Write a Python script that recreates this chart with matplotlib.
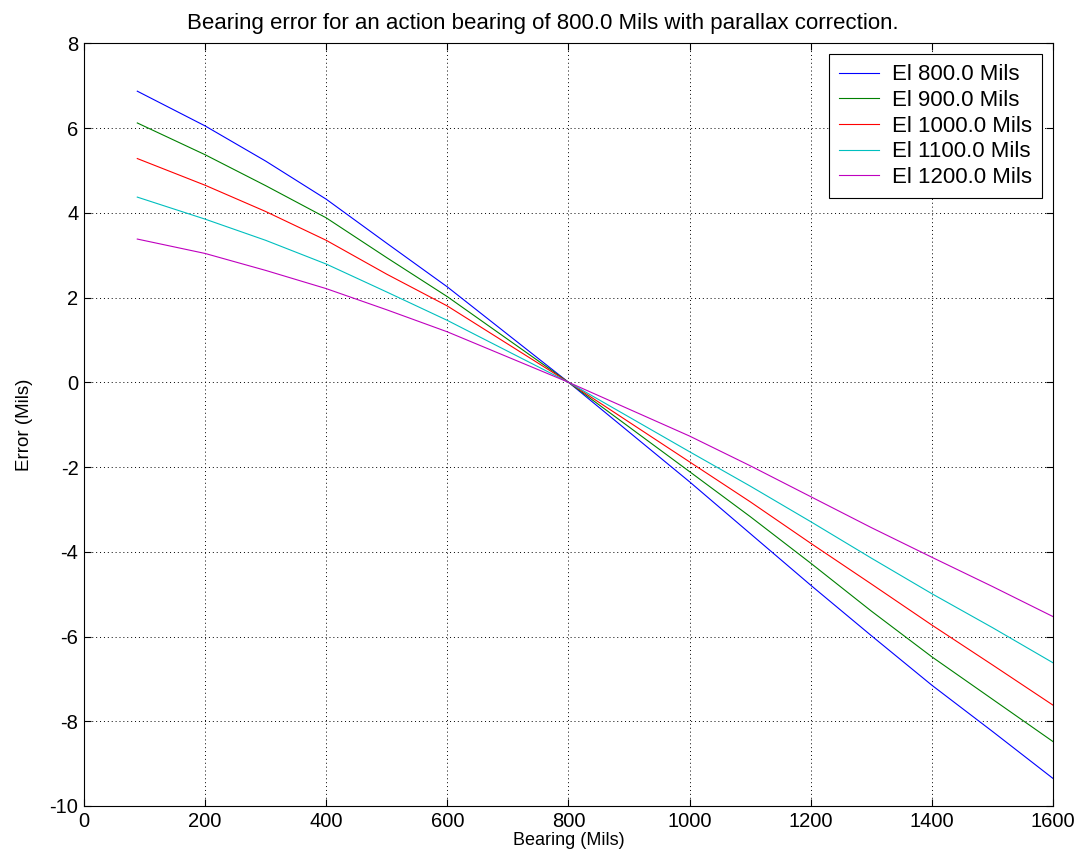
import matplotlib.pyplot as plt
import numpy as np

plt.rcParams['font.family'] = ['Liberation Sans', 'DejaVu Sans']
plt.rcParams['axes.unicode_minus'] = False

bearing = [88, 200, 300, 400, 500, 600, 800, 1000, 1100, 1200, 1300, 1400, 1500, 1600]
err_800 = [6.87, 6.05, 5.22, 4.32, 3.28, 2.25, 0.0, -2.35, -3.57, -4.79, -5.98, -7.15, -8.24, -9.35]
err_900 = [6.12, 5.37, 4.64, 3.88, 2.94, 2.02, 0.0, -2.11, -3.17, -4.27, -5.40, -6.48, -7.48, -8.48]
err_1000 = [5.28, 4.65, 4.03, 3.35, 2.55, 1.80, 0.0, -1.88, -2.82, -3.80, -4.76, -5.73, -6.67, -7.62]
err_1100 = [4.37, 3.85, 3.35, 2.79, 2.13, 1.46, 0.0, -1.64, -2.45, -3.29, -4.15, -4.99, -5.79, -6.62]
err_1200 = [3.38, 3.04, 2.64, 2.21, 1.71, 1.19, 0.0, -1.27, -1.97, -2.70, -3.43, -4.13, -4.82, -5.53]

series = [err_800, err_900, err_1000, err_1100, err_1200]
labels = ['El 800.0 Mils', 'El 900.0 Mils', 'El 1000.0 Mils',
          'El 1100.0 Mils', 'El 1200.0 Mils']
colors = ['#0000ff', '#008000', '#ff0000', '#00bfbf', '#bf00bf']

fig = plt.figure(figsize=(10.81, 8.66), dpi=100)
ax = fig.add_axes([0.0777, 0.0693, 0.8964, 0.8807])

for y, lab, c in zip(series, labels, colors):
    ax.plot(bearing, y, color=c, lw=0.8, label=lab)

ax.set_xlim(0, 1600)
ax.set_ylim(-10, 8)
ax.set_xticks(np.arange(0, 1601, 200))
ax.set_yticks(np.arange(-10, 9, 2))
ax.tick_params(direction='in', top=True, right=True, labelsize=14.5, length=5, pad=4)
ax.grid(True, color='black', linestyle=(0, (1, 3)), lw=0.7)
for s in ax.spines.values():
    s.set_linewidth(0.8)

fig.suptitle('Bearing error for an action bearing of 800.0 Mils with parallax correction.',
             fontsize=16, x=0.502, y=0.985, va='top')
ax.set_xlabel('Bearing (Mils)', fontsize=13, labelpad=1)
ax.set_ylabel('Error (Mils)', fontsize=13.5, labelpad=12)

leg = ax.legend(loc='upper right', fontsize=16, fancybox=False, framealpha=1,
                edgecolor='black', borderaxespad=0.5, handlelength=1.8,
                handletextpad=0.6, labelspacing=0.21, borderpad=0.45)
leg.get_frame().set_linewidth(0.8)

fig.savefig('out.png', dpi=100)
